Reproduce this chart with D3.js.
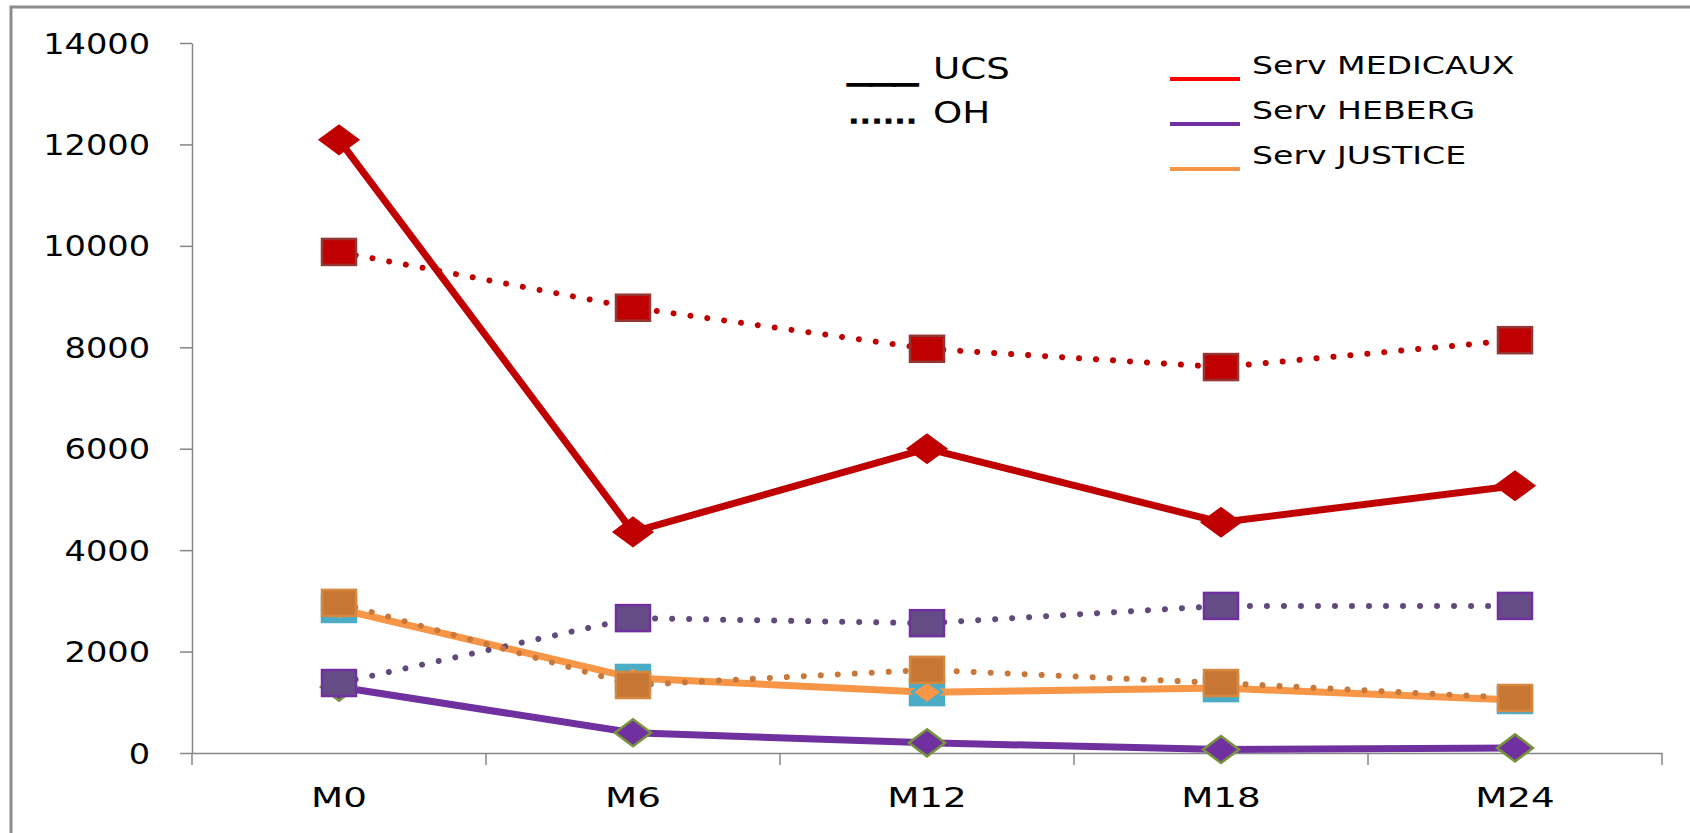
<!DOCTYPE html>
<html>
<head>
<meta charset="utf-8">
<script src="https://cdn.jsdelivr.net/npm/d3@7"></script>
<style>
  body { margin: 0; background: #fff; }
  text { font-family: "DejaVu Sans", sans-serif; fill: #000; }
</style>
</head>
<body>
<svg id="chart" width="1690" height="833"></svg>
<script>
// categories and series
const periods = ["M0", "M6", "M12", "M18", "M24"];
const ucsMedicaux = [12090, 4360, 6000, 4550, 5270];
const ohMedicaux = [9880, 8780, 7970, 7610, 8140];
const ucsHeberg = [1300, 400, 200, 70, 100];
const ohHeberg = [1380, 2660, 2560, 2900, 2900];
const ucsJustice = [2840, 1480, 1200, 1280, 1045];
const ohJustice = [2960, 1340, 1640, 1380, 1085];
const yTicks = [0, 2000, 4000, 6000, 8000, 10000, 12000, 14000];

const svg = d3.select("#chart");

// outer frame (only top and left edges show)
svg.append("rect")
  .attr("x", 11).attr("y", 7)
  .attr("width", 1750).attr("height", 900)
  .attr("fill", "none").attr("stroke", "#8c8c8c").attr("stroke-width", 3);

const x = d3.scaleBand().domain(periods).range([192, 1662]).padding(0);
const y = d3.scaleLinear().domain([0, 14000]).range([753, 43]);
const cx = d => x(d) + x.bandwidth() / 2;

// y axis
const yAxis = svg.append("g")
  .attr("transform", "translate(192,0)")
  .call(d3.axisLeft(y).tickValues(yTicks).tickSize(12).tickSizeOuter(0).tickFormat(d => d));
yAxis.select(".domain").attr("stroke", "#868686").attr("stroke-width", 1.5);
yAxis.selectAll(".tick line").attr("stroke", "#868686").attr("stroke-width", 1.5);
yAxis.selectAll(".tick text")
  .attr("x", -35).attr("dy", "0.36em")
  .attr("transform", "scale(1.2,1)")
  .style("font-size", "28px").style("font-family", "DejaVu Sans").attr("fill", "#000");

// x axis: labels centred, ticks at category boundaries
const xAxis = svg.append("g")
  .attr("transform", "translate(0,753)")
  .call(d3.axisBottom(x).tickSize(0).tickSizeOuter(0));
xAxis.select(".domain").attr("stroke", "#868686").attr("stroke-width", 1.5);
xAxis.selectAll(".tick text")
  .attr("y", 0).attr("dy", 0)
  .attr("transform", "translate(0,54) scale(1.38,1)")
  .style("font-size", "27px").style("font-family", "DejaVu Sans").attr("fill", "#000");

const bounds = periods.map(d => x(d)).concat([x.range()[1]]);
svg.append("g").selectAll("line")
  .data(bounds).enter().append("line")
  .attr("x1", d => d).attr("x2", d => d)
  .attr("y1", 753).attr("y2", 765)
  .attr("stroke", "#868686").attr("stroke-width", 1.5);

const line = d3.line().x((d, i) => cx(periods[i])).y(d => y(d));

function drawLine(values, color, width, dotted) {
  const p = svg.append("path")
    .datum(values)
    .attr("d", line)
    .attr("fill", "none")
    .attr("stroke", color)
    .attr("stroke-width", width)
    .attr("stroke-linejoin", "round");
  if (dotted) p.attr("stroke-dasharray", "0.01 17").attr("stroke-linecap", "round");
}

function drawSquares(values, fill, stroke, w, h) {
  svg.append("g").selectAll("rect")
    .data(values).enter().append("rect")
    .attr("x", (d, i) => cx(periods[i]) - w / 2)
    .attr("y", d => y(d) - h / 2)
    .attr("width", w).attr("height", h)
    .attr("fill", fill).attr("stroke", stroke).attr("stroke-width", 2.5);
}

function drawDiamonds(values, fill, stroke, w, h) {
  svg.append("g").selectAll("path")
    .data(values).enter().append("path")
    .attr("d", (d, i) => {
      const px = cx(periods[i]), py = y(d);
      return `M${px - w / 2},${py}L${px},${py - h / 2}L${px + w / 2},${py}L${px},${py + h / 2}Z`;
    })
    .attr("fill", fill).attr("stroke", stroke).attr("stroke-width", 2.5);
}

// UCS series (solid)
drawLine(ucsMedicaux, "#C00000", 7, false);
drawDiamonds(ucsMedicaux, "#C00000", "#C00000", 38, 28);

drawLine(ucsHeberg, "#7030A0", 7, false);
drawDiamonds(ucsHeberg, "#7030A0", "#77933C", 36, 27);

drawSquares(ucsJustice, "#4BACC6", "#4BACC6", 34, 26);
drawLine(ucsJustice, "#F79646", 7, false);
drawDiamonds(ucsJustice, "#F79646", "#4BACC6", 30, 22);

// OH series (dotted)
drawLine(ohMedicaux, "#C00000", 6, true);
drawSquares(ohMedicaux, "#C00000", "#963634", 34, 26);

drawLine(ohHeberg, "#604A7B", 6, true);
drawSquares(ohHeberg, "#664C86", "#7030A0", 34, 26);

drawLine(ohJustice, "#C8783A", 6, true);
drawSquares(ohJustice, "#C77733", "#D58840", 34, 26);

// legend: line style
const styleLegend = [
  { mark: "___", label: "UCS", y: 79 },
  { mark: "......", label: "OH", y: 123 }
];
styleLegend.forEach(s => {
  svg.append("text")
    .attr("transform", `translate(848,${s.y}) scale(1.24,1)`)
    .attr("textLength", 56).attr("lengthAdjust", "spacingAndGlyphs")
    .attr("stroke", "#000").attr("stroke-width", 1.6)
    .style("font-size", "30px").text(s.mark);
  svg.append("text")
    .attr("transform", `translate(933,${s.y}) scale(1.24,1)`)
    .style("font-size", "30px").text(s.label);
});

// legend: services
const serviceNames = ["Serv MEDICAUX", "Serv HEBERG", "Serv JUSTICE"];
const serviceColors = ["#FF0000", "#7030A0", "#F79646"];
serviceNames.forEach((name, i) => {
  const ly = 79 + i * 45;
  svg.append("line")
    .attr("x1", 1170).attr("x2", 1240)
    .attr("y1", ly).attr("y2", ly)
    .attr("stroke", serviceColors[i]).attr("stroke-width", 4);
  svg.append("text")
    .attr("transform", `translate(1252,${ly - 5}) scale(1.38,1)`)
    .style("font-size", "24px").text(name);
});
</script>
</body>
</html>
